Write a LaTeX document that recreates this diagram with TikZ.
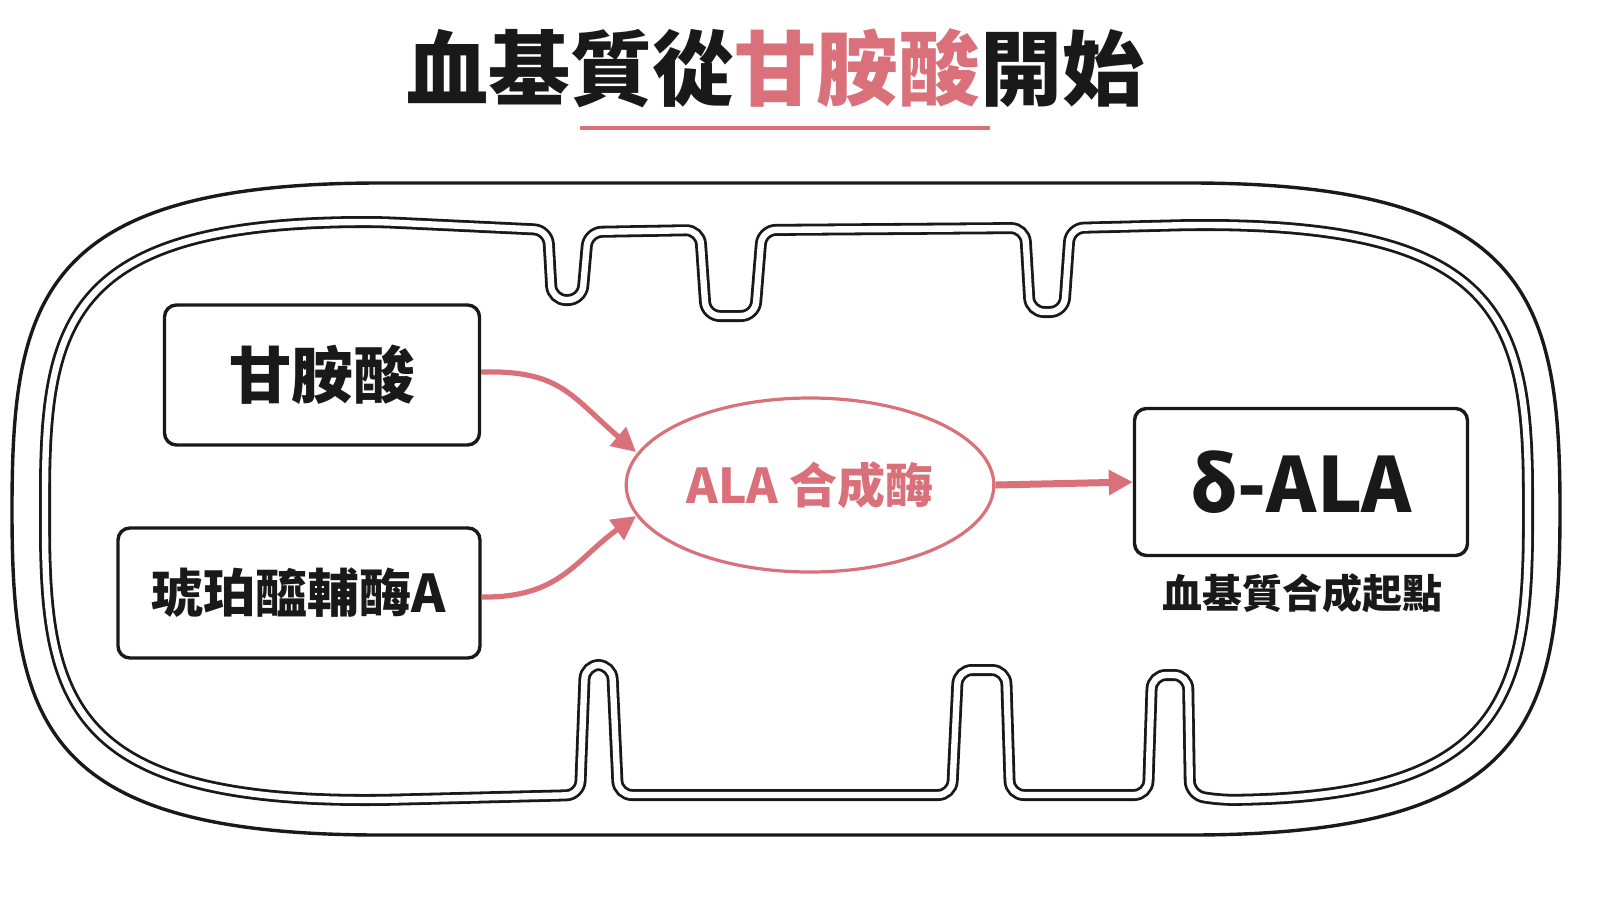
\documentclass[tikz,border=0pt]{standalone}
\usepackage{fontspec}
\setmainfont{Noto Sans CJK TC}
\usetikzlibrary{arrows.meta,shapes.geometric}
\definecolor{pk}{HTML}{D9707A}
\begin{document}
\begin{tikzpicture}[x=0.5pt,y=-0.5pt,
  box/.style={draw=black!90,line width=1.7pt,rounded corners=6pt},
  arr/.style={draw=pk,line width=2.6pt,-{Triangle[length=12pt,width=12pt]}},
  lbl/.style={font=\bfseries,text=black!90}]
\useasboundingbox (0,0) rectangle (1600,900);
% title
\node[lbl,font=\bfseries\fontsize{41}{46}\selectfont] (title) at (775,68) {血基質從\textcolor{pk}{甘胺酸}開始};
\draw[pk,line width=1.6pt] (580,128) coordinate(u1) -- (990,128) coordinate(u2);
% outer membrane
\draw[black!90,line width=1.7pt] (12,510) .. controls (12,300) and (40,183) .. (380,183) -- (1190,183) .. controls (1530,183) and (1560,300) .. (1560,510) .. controls (1560,720) and (1530,835) .. (1190,835) -- (380,835) .. controls (40,835) and (12,720) .. (12,510) -- cycle;
% inner membrane
\def\inner{(45,510) .. controls (45,320) and (70,222) .. (380,222) -- (548,230) -- (552,300) -- (582,300) -- (588,232) -- (700,230) -- (706,316) -- (755,316) -- (762,230) -- (1025,228) -- (1030,312) -- (1064,312) -- (1070,228) -- (1190,225) .. controls (1500,225) and (1528,320) .. (1528,510) .. controls (1528,700) and (1500,797) .. (1220,800) -- (1190,795) -- (1188,675) -- (1152,675) -- (1148,795) -- (1010,795) -- (1006,670) -- (958,670) -- (952,795) -- (618,795) -- (612,665) -- (585,665) -- (580,795) -- (380,800) .. controls (70,800) and (45,700) .. (45,510) -- cycle}
\draw[black!90,line width=6pt,rounded corners=7pt] \inner;
\draw[white,line width=3.2pt,rounded corners=7pt] \inner;
% boxes
\node[box,minimum width=157.5pt,minimum height=70pt,lbl,font=\bfseries\fontsize{31}{35}\selectfont] (gly) at (322,375) {甘胺酸};
\node[box,minimum width=181pt,minimum height=65pt,lbl,font=\bfseries\fontsize{26}{30}\selectfont] (suc) at (299,593) {琥珀醯輔酶A};
\node[draw=pk,line width=1.6pt,ellipse,minimum width=170pt,minimum height=87pt,text=pk,font=\bfseries\fontsize{24}{28}\selectfont] (ala) at (810,485) {ALA 合成酶};
\node[box,minimum width=166.5pt,minimum height=73.5pt,lbl,font=\bfseries\fontsize{38}{42}\selectfont] (dala) at (1301,482) {δ-ALA};
\node[lbl,font=\bfseries\fontsize{20}{24}\selectfont] (cap) at (1302,593) {血基質合成起點};
% arrows
\draw[arr] (gly.east|-0,372) .. controls (560,370) and (570,395) .. (636,452);
\draw[arr] (suc.east|-0,597) .. controls (560,598) and (575,560) .. (636,516);
\draw[arr,line width=3.5pt] (ala.east) -- (dala.west);
\end{tikzpicture}
\end{document}
